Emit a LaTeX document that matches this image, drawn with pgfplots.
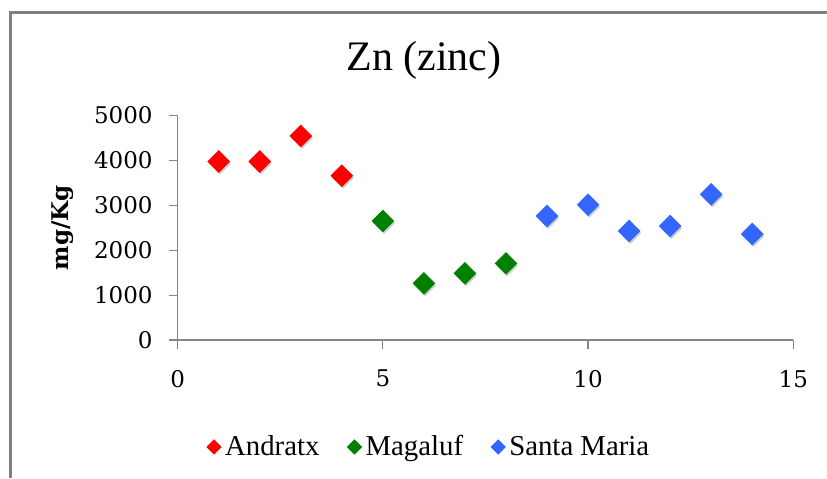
\documentclass[border=0pt]{standalone}
\usepackage{pgfplots}
\pgfplotsset{compat=1.18}
\usepackage{fontspec}
\setmainfont{Liberation Serif}
\newfontfamily\tickfont{DejaVu Serif}
\definecolor{axgray}{RGB}{134,134,134}
\definecolor{frgray}{RGB}{128,128,128}
\definecolor{cred}{RGB}{255,0,0}
\definecolor{cgreen}{RGB}{0,128,0}
\definecolor{cblue}{RGB}{51,102,255}
\begin{document}
\begin{tikzpicture}
\useasboundingbox (0,0) rectangle (413.5pt,239pt);
\draw[frgray, line width=1.4pt] (5.25pt,0pt) -- (5.25pt,232.6pt) -- (413.5pt,232.6pt);
\begin{axis}[
  at={(88.85pt,69pt)}, anchor=south west, scale only axis,
  width=307.8pt, height=112.25pt,
  xmin=0, xmax=15, ymin=0, ymax=5000,
  xtick={0,5,10,15}, ytick={0,1000,2000,3000,4000,5000},
  axis x line=bottom, axis y line=left,
  axis line style={-, draw=axgray, line width=0.6pt},
  tick align=outside, major tick length=4.5pt,
  tick style={draw=axgray, line width=0.6pt},
  /pgf/number format/assume math mode=true,
  /pgf/number format/1000 sep={},
  scaled ticks=false,
  tick label style={font=\tickfont\fontsize{11.5}{13}\selectfont},
  xticklabel style={yshift=-7pt},
  yticklabel style={xshift=-4.5pt},
  ylabel={mg/Kg},
  ylabel style={font=\tickfont\bfseries\fontsize{11.5}{13}\selectfont, at={(axis description cs:-0.1863,0.5)}, anchor=center},
  title={Zn (zinc)},
  title style={font=\fontsize{21}{25}\selectfont, at={(axis description cs:0.40,1.145)}, anchor=base, yshift=0pt},
  legend style={draw=none, fill=none, at={(axis description cs:0.410,-0.4766)}, anchor=center,
    legend columns=3, font=\fontsize{14.4}{16}\selectfont,
    /tikz/every even column/.append style={column sep=12pt}},
  legend image code/.code={\draw[#1, mark size=2.5pt] plot coordinates {(0pt,0pt)};},
]
\addplot[forget plot, only marks, color=black, opacity=0.2, mark=square*, mark size=3.8pt,
  mark options={xshift=0.6pt, yshift=-1.1pt, rotate=45, draw opacity=0}]
  coordinates {(1,3975)(2,3975)(3,4545)(4,3660)(5,2650)(6,1262)(7,1485)(8,1707)
               (9,2762)(10,3013)(11,2428)(12,2539)(13,3245)(14,2361)};
\addplot[only marks, color=cred, mark=square*, mark size=3.8pt, mark options={rotate=45}]
  coordinates {(1,3975)(2,3975)(3,4545)(4,3660)};
\addlegendentry{Andratx}
\addplot[only marks, color=cgreen, mark=square*, mark size=3.8pt, mark options={rotate=45}]
  coordinates {(5,2650)(6,1262)(7,1485)(8,1707)};
\addlegendentry{Magaluf}
\addplot[only marks, color=cblue, mark=square*, mark size=3.8pt, mark options={rotate=45}]
  coordinates {(9,2762)(10,3013)(11,2428)(12,2539)(13,3245)(14,2361)};
\addlegendentry{Santa Maria}
\end{axis}
\end{tikzpicture}
\end{document}
